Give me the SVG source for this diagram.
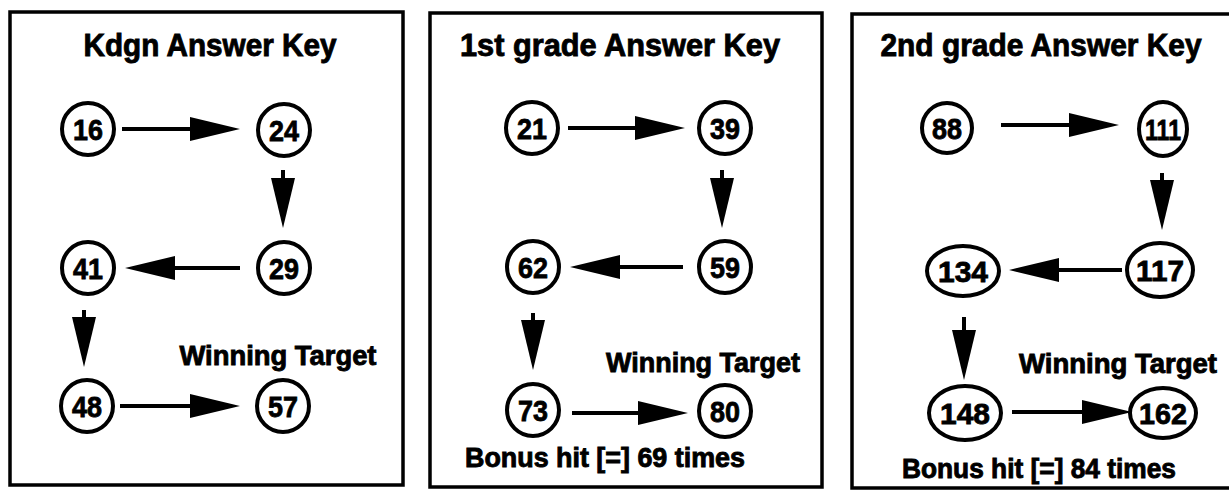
<svg xmlns="http://www.w3.org/2000/svg" width="1229" height="491" viewBox="0 0 1229 491">
<style>
.panel{fill:none;stroke:#000;stroke-width:3.5}
.node{fill:#fff;stroke:#000;stroke-width:4}
.num{font-family:"Liberation Sans",Arial,sans-serif;font-weight:bold;font-size:30px;text-anchor:middle;fill:#000;stroke:#000;stroke-width:0.8}
.title{font-family:"Liberation Sans",Arial,sans-serif;font-weight:bold;font-size:32px;text-anchor:middle;fill:#000;stroke:#000;stroke-width:0.9}
.lbl{font-family:"Liberation Sans",Arial,sans-serif;font-weight:bold;font-size:28px;text-anchor:middle;fill:#000;stroke:#000;stroke-width:0.9}
.bonus{font-family:"Liberation Sans",Arial,sans-serif;font-weight:bold;font-size:27px;fill:#000;stroke:#000;stroke-width:0.9}
.edge{stroke:#000;stroke-width:4;fill:none;marker-end:url(#ah)}
</style>
<defs>
<marker id="ah" markerUnits="userSpaceOnUse" viewBox="0 0 50 24" markerWidth="50" markerHeight="24" refX="20" refY="12" orient="auto" overflow="visible">
<path d="M0,0 L50,12 L0,24 Z" fill="#000"/>
</marker>
</defs>
<rect width="1229" height="491" fill="#fff"/>

<g id="panel-kdgn">
<rect class="panel" x="10" y="12" width="393" height="473"/>
<text class="title" x="210" y="56" textLength="253" lengthAdjust="spacingAndGlyphs">Kdgn Answer Key</text>
<text class="lbl" x="278" y="365" textLength="197" lengthAdjust="spacingAndGlyphs">Winning Target</text>
</g>
<g id="k16"><circle class="node" cx="88" cy="129" r="26"/><text class="num" x="88" y="140" textLength="30" lengthAdjust="spacingAndGlyphs">16</text></g>
<g id="k24"><circle class="node" cx="284" cy="130" r="26"/><text class="num" x="284" y="141" textLength="30" lengthAdjust="spacingAndGlyphs">24</text></g>
<g id="k29"><circle class="node" cx="284" cy="268" r="26"/><text class="num" x="284" y="279" textLength="30" lengthAdjust="spacingAndGlyphs">29</text></g>
<g id="k41"><circle class="node" cx="88" cy="268" r="26"/><text class="num" x="88" y="279" textLength="30" lengthAdjust="spacingAndGlyphs">41</text></g>
<g id="k48"><circle class="node" cx="87" cy="406" r="26"/><text class="num" x="87" y="417" textLength="30" lengthAdjust="spacingAndGlyphs">48</text></g>
<g id="k57"><circle class="node" cx="283" cy="406" r="26"/><text class="num" x="283" y="417" textLength="30" lengthAdjust="spacingAndGlyphs">57</text></g>

<g id="panel-1st">
<rect class="panel" x="430" y="13" width="392" height="474"/>
<text class="title" x="620" y="56" textLength="320" lengthAdjust="spacingAndGlyphs">1st grade Answer Key</text>
<text class="lbl" x="703" y="372" textLength="194" lengthAdjust="spacingAndGlyphs">Winning Target</text>
<text class="bonus" x="465" y="467" textLength="280" lengthAdjust="spacingAndGlyphs">Bonus hit [=] 69 times</text>
</g>
<g id="g21"><circle class="node" cx="532" cy="128" r="26"/><text class="num" x="532" y="139" textLength="30" lengthAdjust="spacingAndGlyphs">21</text></g>
<g id="g39"><circle class="node" cx="725" cy="128" r="26"/><text class="num" x="725" y="139" textLength="30" lengthAdjust="spacingAndGlyphs">39</text></g>
<g id="g59"><circle class="node" cx="725" cy="267" r="26"/><text class="num" x="725" y="278" textLength="30" lengthAdjust="spacingAndGlyphs">59</text></g>
<g id="g62"><circle class="node" cx="533" cy="267" r="26"/><text class="num" x="533" y="278" textLength="30" lengthAdjust="spacingAndGlyphs">62</text></g>
<g id="g73"><circle class="node" cx="533" cy="410" r="26"/><text class="num" x="533" y="421" textLength="30" lengthAdjust="spacingAndGlyphs">73</text></g>
<g id="g80"><circle class="node" cx="725" cy="411" r="26"/><text class="num" x="725" y="422" textLength="30" lengthAdjust="spacingAndGlyphs">80</text></g>

<g id="panel-2nd">
<rect class="panel" x="852" y="14" width="390" height="474"/>
<text class="title" x="1041" y="56" textLength="321" lengthAdjust="spacingAndGlyphs">2nd grade Answer Key</text>
<text class="lbl" x="1118" y="373" textLength="198" lengthAdjust="spacingAndGlyphs">Winning Target</text>
<text class="bonus" x="902" y="478" textLength="274" lengthAdjust="spacingAndGlyphs">Bonus hit [=] 84 times</text>
</g>
<g id="s88"><ellipse class="node" cx="947" cy="128" rx="25" ry="25"/><text class="num" x="947" y="139" textLength="30" lengthAdjust="spacingAndGlyphs">88</text></g>
<g id="s111"><ellipse class="node" cx="1163" cy="129" rx="24" ry="27"/><text class="num" x="1163" y="140" textLength="36" lengthAdjust="spacingAndGlyphs">111</text></g>
<g id="s117"><ellipse class="node" cx="1160" cy="270" rx="33" ry="27"/><text class="num" x="1160" y="281" textLength="48" lengthAdjust="spacingAndGlyphs">117</text></g>
<g id="s134"><ellipse class="node" cx="963" cy="271" rx="36" ry="25"/><text class="num" x="963" y="282" textLength="50" lengthAdjust="spacingAndGlyphs">134</text></g>
<g id="s148"><ellipse class="node" cx="965" cy="413" rx="36" ry="27"/><text class="num" x="965" y="424" textLength="50" lengthAdjust="spacingAndGlyphs">148</text></g>
<g id="s162"><ellipse class="node" cx="1163" cy="413" rx="33" ry="25"/><text class="num" x="1163" y="424" textLength="48" lengthAdjust="spacingAndGlyphs">162</text></g>

<g id="connectors">
<line class="edge" x1="122" y1="129" x2="210" y2="129"/>
<line class="edge" x1="283" y1="170" x2="283" y2="198"/>
<line class="edge" x1="240" y1="268" x2="155" y2="268"/>
<line class="edge" x1="84" y1="310" x2="84" y2="337"/>
<line class="edge" x1="120" y1="406" x2="210" y2="406"/>

<line class="edge" x1="568" y1="128" x2="655" y2="128"/>
<line class="edge" x1="722" y1="170" x2="722" y2="198"/>
<line class="edge" x1="683" y1="267" x2="600" y2="267"/>
<line class="edge" x1="533" y1="313" x2="533" y2="340"/>
<line class="edge" x1="572" y1="413" x2="658" y2="413"/>

<line class="edge" x1="1001" y1="125" x2="1089" y2="125"/>
<line class="edge" x1="1162" y1="173" x2="1162" y2="200"/>
<line class="edge" x1="1122" y1="270" x2="1039" y2="270"/>
<line class="edge" x1="964" y1="317" x2="964" y2="350"/>
<line class="edge" x1="1012" y1="412" x2="1102" y2="412"/>
</g>
</svg>
